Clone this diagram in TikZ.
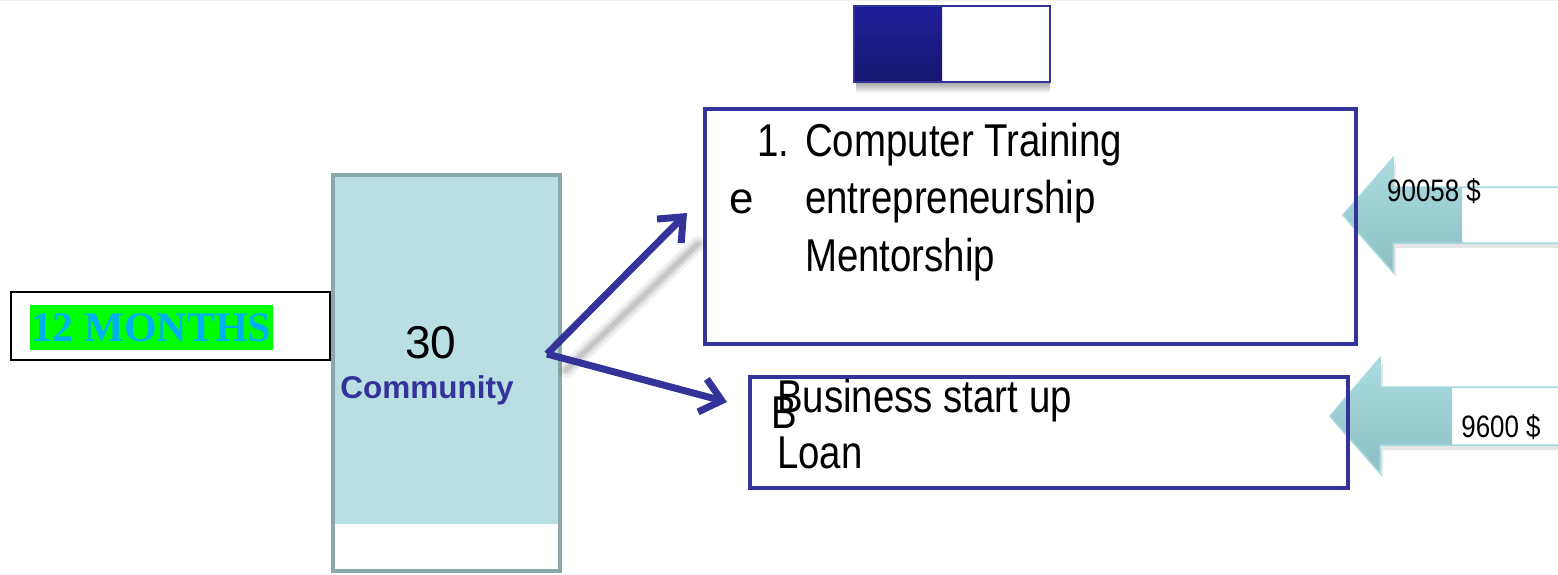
\documentclass[tikz,border=0pt]{standalone}
\usepackage{fontspec}
\setmainfont{Liberation Sans}
\newfontfamily\narrowfont[FakeStretch=0.835]{Liberation Sans}
\newfontfamily\timesfont{Liberation Serif}
\usetikzlibrary{arrows.meta}
\definecolor{boxblue}{RGB}{51,51,153}
\definecolor{commfill}{RGB}{185,223,227}
\definecolor{commborder}{RGB}{138,168,171}
\definecolor{monthsblue}{RGB}{0,176,240}
\definecolor{brightgreen}{RGB}{0,255,0}
\definecolor{navytop}{RGB}{31,31,153}
\definecolor{navybot}{RGB}{22,22,112}
\definecolor{tealtop}{RGB}{170,220,224}
\definecolor{tealbot}{RGB}{140,190,195}
\definecolor{tealline}{RGB}{163,217,221}
\tikzset{
  bluebox/.style={draw=boxblue, line width=4pt, inner sep=0pt, fill=none},
  bigtxt/.style={font=\narrowfont\fontsize{46}{56}\selectfont, inner sep=0pt, anchor=base west},
  flowarrow/.style={draw=boxblue, line width=7pt, -{Straight Barb[length=20pt,width=34pt]}},
  arrowshadow/.style={draw=black, line cap=round},
  amount/.style={font=\narrowfont\fontsize{31}{36}\selectfont, inner sep=0pt},
  blockarrow/.style={draw=tealline, line width=1.5pt},
}
\begin{document}
\begin{tikzpicture}[x=1pt,y=-1pt]
\useasboundingbox (0,0) rectangle (1558,575);
\draw[gray!12, line width=1pt] (0,1) -- (1558,1);

% 12 MONTHS box
\node[draw=black, line width=2pt, minimum width=319pt, minimum height=68pt, inner sep=0pt] (months) at (170.5,326) {};
\node[fill=brightgreen, minimum width=243pt, minimum height=45pt, inner sep=0pt,
      font=\timesfont\bfseries\fontsize{42}{44}\selectfont, text=monthsblue] (monthslbl) at (151.5,327.5) {12 MONTHS};

% Community box
\fill[commfill] (333,175) rectangle (560,524);
\node[draw=commborder, line width=4pt, minimum width=227pt, minimum height=396pt, inner sep=0pt] (comm) at (446.5,373) {};
\node[font=\fontsize{46}{50}\selectfont, inner sep=0pt] (thirty) at (431,343) {30};
\node[font=\bfseries\fontsize{31.5}{36}\selectfont, text=boxblue, inner sep=0pt] (commlbl) at (427,390) {Community};

% small navy box
\shade[top color=black!30, bottom color=white] (856,84) rectangle (1050,93);
\shade[top color=navytop, bottom color=navybot] (853,6) rectangle (942,83);
\node[draw=boxblue, line width=2pt, minimum width=196pt, minimum height=76pt, inner sep=0pt] (legend) at (951.5,44.5) {};

% teal block arrows (drawn before boxes)
\fill[black, opacity=0.10] (1346,220) -- (1396,163) -- (1396,192) -- (1560,192) -- (1560,248) -- (1396,248) -- (1396,277) -- cycle;
\fill[white] (1343,215) -- (1393,158) -- (1393,187) -- (1560,187) -- (1560,243) -- (1393,243) -- (1393,272) -- cycle;
\begin{scope}
\clip (1300,100) rectangle (1462,300);
\shade[top color=tealtop, bottom color=tealbot] (1343,215) -- (1393,158) -- (1393,187) -- (1560,187) -- (1560,243) -- (1393,243) -- (1393,272) -- cycle;
\end{scope}
\draw[blockarrow] (1343,215) -- (1393,158) -- (1393,187) -- (1560,187) -- (1560,243) -- (1393,243) -- (1393,272) -- cycle;

\fill[black, opacity=0.10] (1333,421) -- (1383,363) -- (1383,392) -- (1560,392) -- (1560,450) -- (1383,450) -- (1383,478) -- cycle;
\fill[white] (1330,416) -- (1380,358) -- (1380,387) -- (1560,387) -- (1560,445) -- (1380,445) -- (1380,473) -- cycle;
\begin{scope}
\clip (1300,300) rectangle (1452,500);
\shade[top color=tealtop, bottom color=tealbot] (1330,416) -- (1380,358) -- (1380,387) -- (1560,387) -- (1560,445) -- (1380,445) -- (1380,473) -- cycle;
\end{scope}
\draw[blockarrow] (1330,416) -- (1380,358) -- (1380,387) -- (1560,387) -- (1560,445) -- (1380,445) -- (1380,473) -- cycle;

% main boxes
\node[bluebox, minimum width=651pt, minimum height=235pt] (top) at (1030.5,226.5) {};
\node[bluebox, minimum width=598pt, minimum height=111pt] (bottom) at (1049,432.5) {};

% texts in top box
\node[bigtxt] (n1) at (757,157) {1.};
\node[bigtxt] (t1) at (805,157) {Computer Training};
\node[font=\fontsize{44}{50}\selectfont, inner sep=0pt, anchor=base west] (e1) at (729,213) {e};
\node[bigtxt] (t2) at (805,213) {entrepreneurship};
\node[bigtxt] (t3) at (805,271) {Mentorship};

% texts in bottom box
\node[bigtxt] (b1) at (777,412) {Business start up};
\node[bigtxt] (bb) at (771,428) {B};
\node[bigtxt] (b2) at (777,468) {Loan};

% amounts
\node[amount] (amt1) at (1434,191) {90058 \$};
\node[amount] (amt2) at (1501,427) {9600 \$};

% connectors
\coordinate (src) at (547,354);
\coordinate (tip1) at (687,213);
\coordinate (tip2) at (727,402);
\coordinate (sh1) at (566,370);
\coordinate (sh2) at (698,244);
\draw[arrowshadow, opacity=0.06, line width=16pt] (sh1) -- (sh2);
\draw[arrowshadow, opacity=0.08, line width=10pt] (sh1) -- (sh2);
\draw[arrowshadow, opacity=0.10, line width=5pt] (sh1) -- (sh2);
\draw[flowarrow] (src) -- (tip1);
\draw[flowarrow] (src) -- (tip2);
\end{tikzpicture}
\end{document}
